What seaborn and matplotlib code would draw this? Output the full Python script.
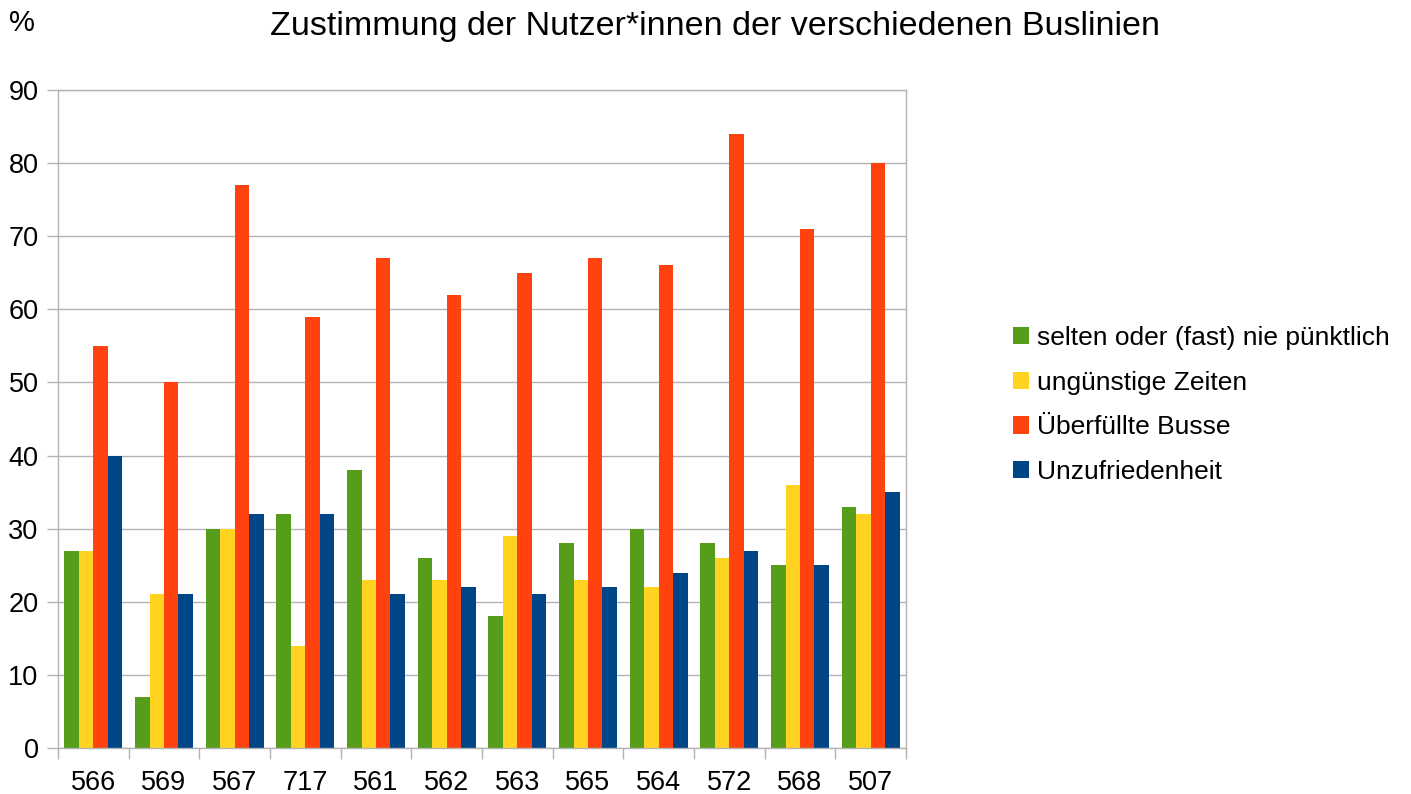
import pandas as pd
import matplotlib.pyplot as plt
import seaborn as sns
from matplotlib.ticker import FixedLocator

linien = ['566', '569', '567', '717', '561', '562', '563', '565', '564', '572', '568', '507']
puenktlich = [27, 7, 30, 32, 38, 26, 18, 28, 30, 28, 25, 33]
zeiten = [27, 21, 30, 14, 23, 23, 29, 23, 22, 26, 36, 32]
ueberfuellt = [55, 50, 77, 59, 67, 62, 65, 67, 66, 84, 71, 80]
unzufrieden = [40, 21, 32, 32, 21, 22, 21, 22, 24, 27, 25, 35]

serien = ['selten oder (fast) nie pünktlich', 'ungünstige Zeiten', 'Überfüllte Busse', 'Unzufriedenheit']
farben = ['#579D1C', '#FFD320', '#FF420E', '#004586']

rows = []
for name, werte in zip(serien, [puenktlich, zeiten, ueberfuellt, unzufrieden]):
    for linie, w in zip(linien, werte):
        rows.append({'Linie': linie, 'Gruppe': name, 'Wert': w})
data = pd.DataFrame(rows)

sns.set_style("white")
plt.rcParams['font.family'] = ['Liberation Sans', 'DejaVu Sans']
plt.rcParams['text.color'] = 'black'
plt.rcParams['xtick.labelcolor'] = 'black'
plt.rcParams['ytick.labelcolor'] = 'black'

fig = plt.figure(figsize=(14.11, 7.94), dpi=100)
ax = fig.add_axes([58 / 1411, 1 - 748 / 794, (906 - 58) / 1411, (748 - 90) / 794])

sns.barplot(data=data, x='Linie', y='Wert', hue='Gruppe', order=linien, hue_order=serien,
            palette=farben, width=0.82, gap=0, saturation=1, linewidth=0, ax=ax, legend=True)

ax.set_ylim(0, 90)
ax.set_xlim(-0.5, len(linien) - 0.5)
ax.set_yticks(range(0, 91, 10))
ax.set_xlabel('')
ax.set_ylabel('')
ax.yaxis.grid(True, color='#b3b3b3', linewidth=1)
ax.set_axisbelow(True)
for s in ax.spines.values():
    s.set_color('#b3b3b3')
    s.set_linewidth(1)

ax.tick_params(axis='y', labelsize=19.5, length=8, width=1, color='#b3b3b3', pad=6, left=True)
ax.tick_params(axis='x', which='major', labelsize=19.5, length=0, pad=16)
ax.xaxis.set_minor_locator(FixedLocator([i - 0.5 for i in range(len(linien) + 1)]))
ax.tick_params(axis='x', which='minor', length=8, width=1, color='#b3b3b3', bottom=True)

handles, labels = ax.get_legend_handles_labels()
ax.get_legend().remove()
fig.legend(handles, labels, loc='center left', bbox_to_anchor=(1013 / 1411, 1 - 405 / 794),
           frameon=False, fontsize=19, handlelength=0.62, handleheight=0.62,
           handletextpad=0.3, labelspacing=0.78, borderpad=0, borderaxespad=0)

fig.text(715 / 1411, 1 - 27 / 794, 'Zustimmung der Nutzer*innen der verschiedenen Buslinien',
         ha='center', va='center', fontsize=24.5)
fig.text(9 / 1411, 1 - 23 / 794, '%', ha='left', va='center', fontsize=21)

plt.savefig('out.png', dpi=100)
